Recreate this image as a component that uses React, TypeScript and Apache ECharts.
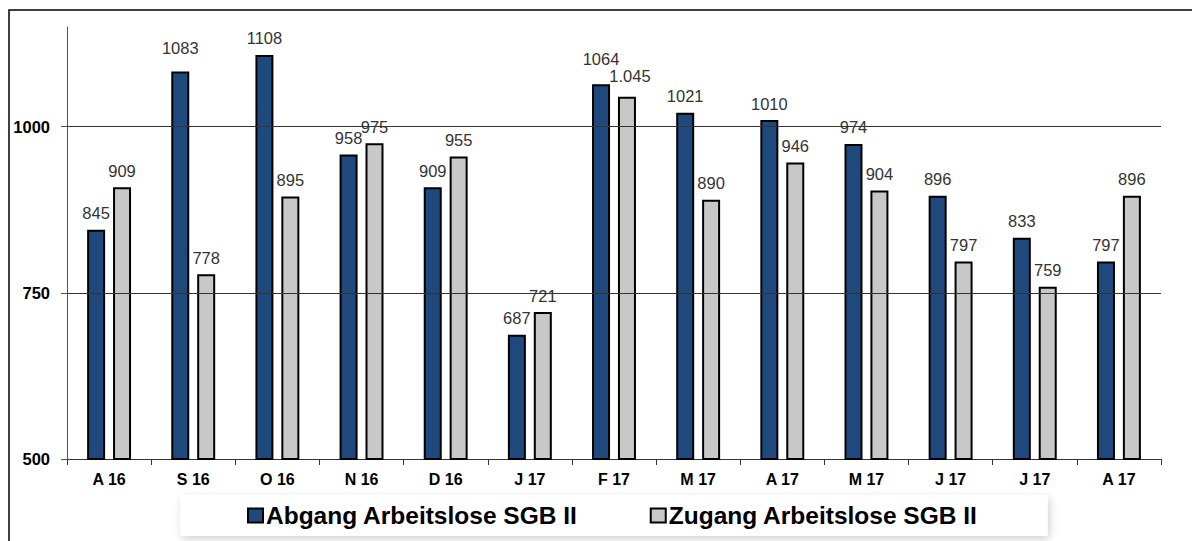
import React, { useEffect, useRef } from "react";
import * as echarts from "echarts";

const categories = ["A 16", "S 16", "O 16", "N 16", "D 16", "J 17", "F 17", "M 17", "A 17", "M 17", "J 17", "J 17", "A 17"];
const abgang = [845, 1083, 1108, 958, 909, 687, 1064, 1021, 1010, 974, 896, 833, 797];
const zugang = [909, 778, 895, 975, 955, 721, 1045, 890, 946, 904, 797, 759, 896];
const abgangLabels = ["845", "1083", "1108", "958", "909", "687", "1064", "1021", "1010", "974", "896", "833", "797"];
const zugangLabels = ["909", "778", "895", "975", "955", "721", "1.045", "890", "946", "904", "797", "759", "896"];
const yTicks = [500, 750, 1000];
const gridValues = [750, 1000];

export default function App() {
  const ref = useRef<HTMLDivElement>(null);
  useEffect(() => {
    if (!ref.current) return;
    const chart = echarts.init(ref.current, null, { renderer: "svg" });
    const font = "'Liberation Sans', Arial, sans-serif";
    const labelStyle = {
      show: true,
      position: "top" as const,
      distance: 8,
      fontFamily: font,
      fontSize: 16.5,
      color: "#333",
    };
    // labels that Excel placed a little higher above their bars
    const raisedAbgang: Record<number, number> = { 1: 15, 6: 17 };
    const abgangData = abgang.map((v, i) =>
      raisedAbgang[i] !== undefined ? { value: v, label: { distance: raisedAbgang[i] } } : v
    );
    const zugangData = zugang.map((v, i) => (i === 6 ? { value: v, label: { distance: 12, offset: [3, 0] } } : v));
    chart.setOption({
      animation: false,
      backgroundColor: "#fff",
      textStyle: { fontFamily: font },
      graphic: [
        {
          type: "rect",
          shape: { x: 9, y: 10, width: 1300, height: 700 },
          style: { fill: "none", stroke: "#000", lineWidth: 1.5 },
          silent: true,
          z: 0,
        },
      ],
      grid: { left: 67, right: 31, top: 27, bottom: 82 },
      legend: {
        data: ["Abgang Arbeitslose SGB II", "Zugang Arbeitslose SGB II"],
        left: 180,
        top: 495,
        padding: [8, 70, 8, 67],
        itemGap: 72,
        itemWidth: 15,
        itemHeight: 14,
        icon: "rect",
        backgroundColor: "#fff",
        shadowBlur: 8,
        shadowColor: "rgba(0,0,0,0.18)",
        shadowOffsetX: 2,
        shadowOffsetY: 3,
        textStyle: { fontFamily: font, fontSize: 24.5, fontWeight: "bold", color: "#000", padding: [0, 0, 0, -2] },
      },
      xAxis: {
        type: "category",
        data: categories,
        boundaryGap: true,
        axisLine: { show: true, lineStyle: { color: "#333", width: 1 } },
        axisTick: { show: true, length: 6, lineStyle: { color: "#333" } },
        axisLabel: { fontFamily: font, fontSize: 16, fontWeight: "bold", color: "#000", margin: 12 },
      },
      yAxis: {
        type: "value",
        min: 500,
        max: 1150,
        interval: 250,
        axisLine: { show: true, lineStyle: { color: "#555", width: 1 } },
        axisTick: { show: true, length: 6, lineStyle: { color: "#555" }, customValues: yTicks },
        axisLabel: {
          fontFamily: font,
          fontSize: 16.5,
          fontWeight: "bold",
          color: "#000",
          margin: 17,
          customValues: yTicks,
          formatter: (v: number) => (yTicks.indexOf(v) >= 0 ? String(v) : ""),
        },
        splitLine: { show: false },
      },
      series: [
        {
          name: "grid",
          type: "line",
          data: [],
          z: 1,
          silent: true,
          markLine: {
            silent: true,
            symbol: "none",
            label: { show: false },
            lineStyle: { color: "#333", width: 1, type: "solid" },
            data: gridValues.map((v) => ({ yAxis: v })),
          },
        },
        {
          name: "Abgang Arbeitslose SGB II",
          type: "bar",
          data: abgangData,
          barWidth: 18,
          barGap: "44%",
          z: 3,
          itemStyle: { color: "#1F497D", borderColor: "#000", borderWidth: 2 },
          label: { ...labelStyle, formatter: (p: any) => abgangLabels[p.dataIndex] },
        },
        {
          name: "Zugang Arbeitslose SGB II",
          type: "bar",
          data: zugangData,
          barWidth: 18,
          z: 3,
          itemStyle: { color: "#C8C8C8", borderColor: "#000", borderWidth: 2 },
          label: { ...labelStyle, formatter: (p: any) => zugangLabels[p.dataIndex] },
        },
      ],
    });
    return () => chart.dispose();
  }, []);
  return <div ref={ref} style={{ position: "fixed", left: 0, top: 0, width: 1192, height: 541 }} />;
}
